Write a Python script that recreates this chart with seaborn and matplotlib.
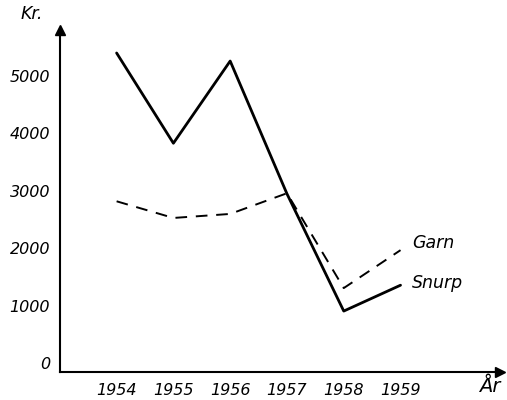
import matplotlib
matplotlib.use("Agg")
import matplotlib.pyplot as plt
import seaborn as sns
import pandas as pd

years = [1954, 1955, 1956, 1957, 1958, 1959]
snurp = [5550, 3980, 5410, 3100, 1060, 1510]
garn = [2970, 2680, 2750, 3110, 1460, 2120]
series_names = ["Snurp", "Garn"]
y_ticks = [0, 1000, 2000, 3000, 4000, 5000]
x_ticks = [1954, 1955, 1956, 1957, 1958, 1959, 1960]
x_tick_labels = ["1954", "1955", "1956", "1957", "1958", "1959", ""]

df = pd.DataFrame({
    "year": years * 2,
    "value": snurp + garn,
    "series": [series_names[0]] * len(years) + [series_names[1]] * len(years),
})

sns.set_theme(style="white")
plt.rcParams["font.family"] = ["DejaVu Sans"]
plt.rcParams["text.color"] = "black"

fig = plt.figure(figsize=(5.07, 4.0), dpi=100)
ax = fig.add_axes([0.118, 0.07, 0.868, 0.855])

sns.lineplot(data=df, x="year", y="value", style="series",
             style_order=series_names,
             dashes={"Snurp": "", "Garn": (6, 4.5)},
             color="black", legend=False, ax=ax)
for ln in ax.lines:
    if ln.get_linestyle() == "-":
        ln.set_linewidth(2.0)
    else:
        ln.set_linewidth(1.4)

ax.set_xlim(1953.0, 1960.75)
ax.set_ylim(0, 5950)
ax.set_xticks(x_ticks)
ax.set_xticklabels(x_tick_labels, fontstyle="italic", fontsize=11.5)
ax.set_yticks(y_ticks)
ax.set_yticklabels([str(v) for v in y_ticks], fontstyle="italic", fontsize=11.5)
for lab in ax.get_yticklabels():
    lab.set_va("bottom")
ax.tick_params(axis="y", direction="out", length=6, width=1, pad=1,
               colors="black", labelcolor="black")
ax.tick_params(axis="x", direction="out", length=6, width=1, pad=2,
               colors="black", labelcolor="black")
ax.set_xlabel("")
ax.set_ylabel("")

for side in ["top", "right"]:
    ax.spines[side].set_visible(False)
for side in ["left", "bottom"]:
    ax.spines[side].set_color("black")
    ax.spines[side].set_linewidth(1.5)

# axis arrows
ax.plot(0, 1, marker="^", color="black", markersize=7,
        transform=ax.transAxes, clip_on=False)
ax.plot(1, 0, marker=">", color="black", markersize=7,
        transform=ax.transAxes, clip_on=False)

# axis titles
fig.text(0.04, 0.965, "Kr.", fontstyle="italic", fontsize=12.5, va="center", color="black")
fig.text(0.945, 0.035, "År", fontstyle="italic", fontsize=14, va="center", color="black")

# direct labels
ax.text(1959.2, 2240, "Garn", fontstyle="italic", fontsize=12.5, va="center", color="black")
ax.text(1959.2, 1550, "Snurp", fontstyle="italic", fontsize=12.5, va="center", color="black")

fig.savefig("out.png", dpi=100, facecolor="white")
